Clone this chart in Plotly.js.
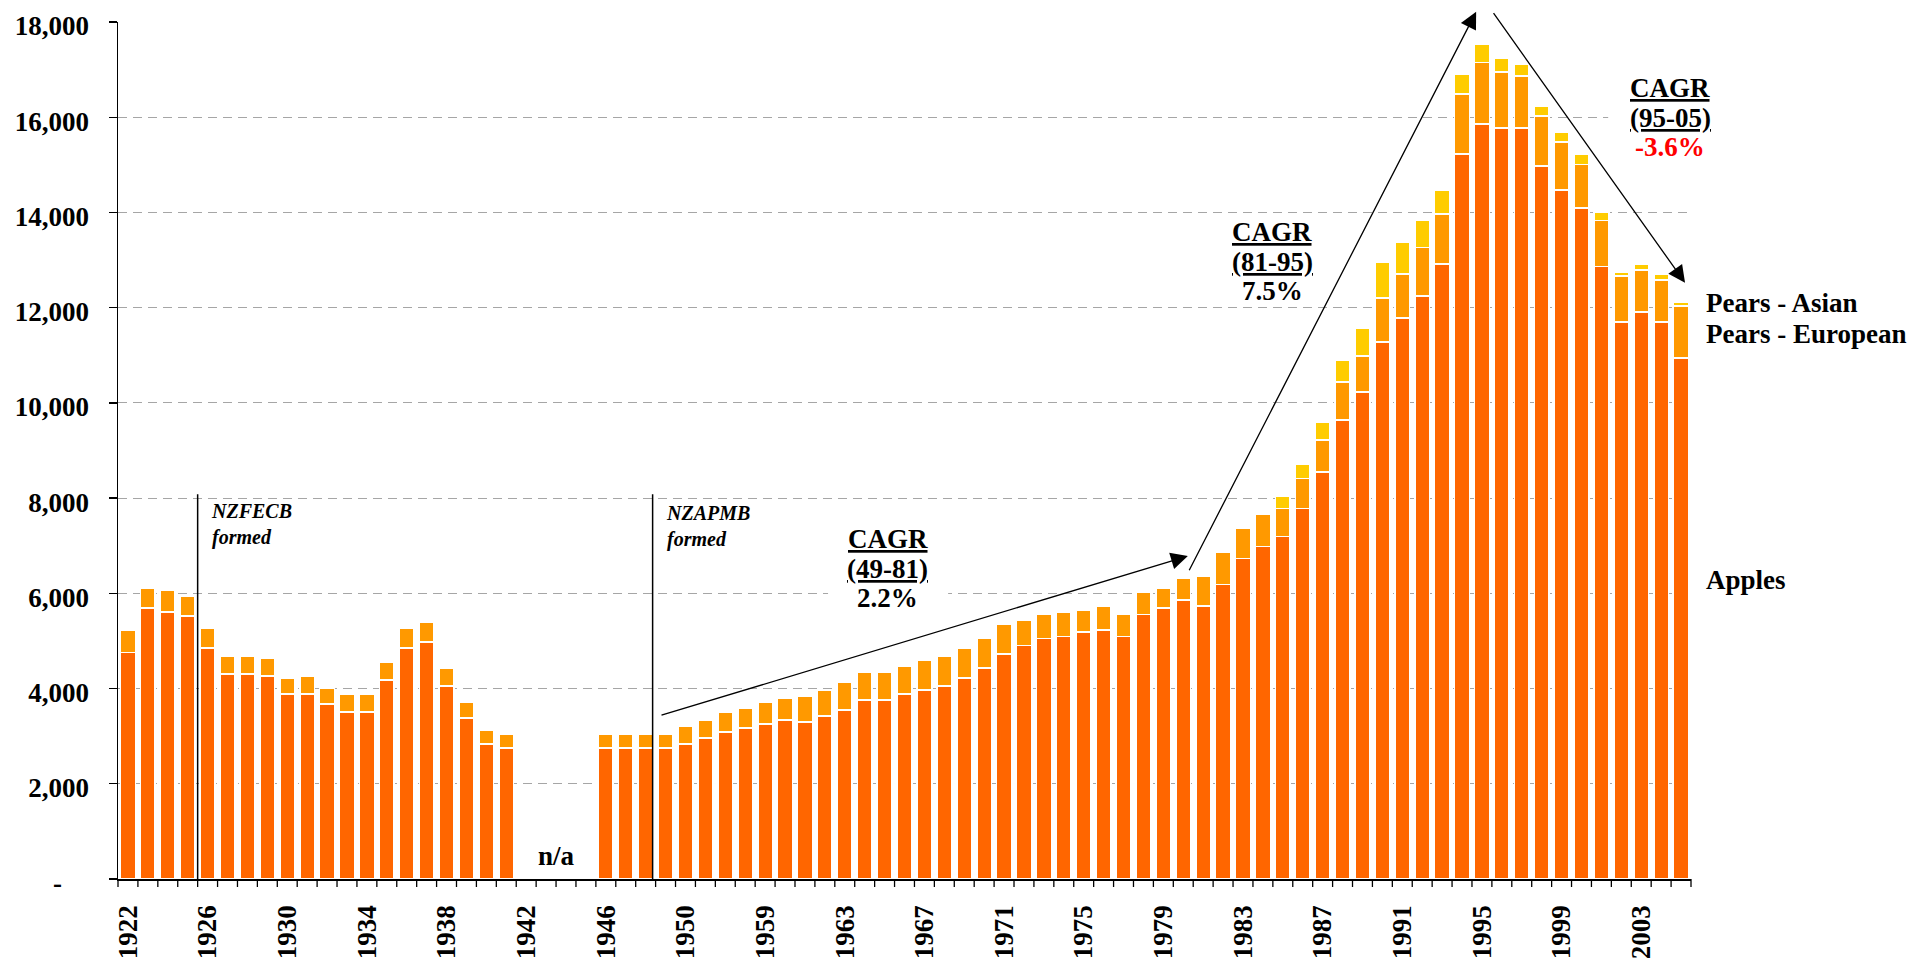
<!DOCTYPE html>
<html>
<head>
<meta charset="utf-8">
<script src="https://cdn.plot.ly/plotly-3.0.1.min.js"></script>
<style>html,body{margin:0;padding:0;background:#fff;}#chart{width:1923px;height:959px;}</style>
</head>
<body>
<div id="chart"></div>
<script>
// ---- data ----
const years = ["1922","1923","1924","1925","1926","1927","1928","1929","1930","1931",
  "1932","1933","1934","1935","1936","1937","1938","1939","1940","1941",
  "1942","1943","1944","1945","1946","1947","1948","1949","1950","1956",
  "1957","1958","1959","1960","1961","1962","1963","1964","1965","1966",
  "1967","1968","1969","1970","1971","1972","1973","1974","1975","1976",
  "1977","1978","1979","1980","1981","1982","1983","1984","1985","1986",
  "1987","1988","1989","1990","1991","1992","1993","1994","1995","1996",
  "1997","1998","1999","2000","2001","2002","2003","2004","2005"];

const apples = [4760,5690,5605,5525,4850,4305,4305,4265,3885,3885,
  3675,3505,3505,4180,4850,4975,4055,3380,2835,2750,
  null,null,null,null,2750,2750,2750,2750,2835,2960,
  3085,3170,3255,3340,3295,3420,3550,3760,3760,3885,
  3970,4050,4220,4430,4725,4900,5050,5095,5185,5230,
  5095,5560,5690,5860,5735,6190,6735,6985,7195,7785,
  8550,9640,10230,11280,11780,12250,12920,15230,15860,15775,
  15775,14980,14475,14095,12870,11700,11905,11700,10940];

const pearsEuropean = [470,420,465,420,420,380,380,375,335,380,
  335,380,380,375,420,420,375,335,295,295,
  null,null,null,null,295,295,295,295,375,375,
  420,420,460,460,550,550,585,585,585,590,
  630,635,635,635,630,530,515,510,465,505,
  470,470,420,460,625,675,630,670,590,625,
  670,800,755,920,925,1010,1050,1260,1290,1175,
  1090,1045,1000,915,965,960,885,880,1095];

const pearsAsian = [0,0,0,0,0,0,0,0,0,0,
  0,0,0,0,0,0,0,0,0,0,
  null,null,null,null,0,0,0,0,0,0,
  0,0,0,0,0,0,0,0,0,0,
  0,0,0,0,0,0,0,0,0,0,
  0,0,0,0,0,0,0,0,260,300,
  380,455,580,750,665,570,490,405,380,285,
  245,205,210,210,170,85,125,125,80];

const seriesNames = ["Apples","Pears - European","Pears - Asian"];
const seriesColors = ["#FF6600","#FF9900","#FFCC00"];
const yTickVals = [0,2000,4000,6000,8000,10000,12000,14000,16000,18000];
const yTickText = ["-\u00a0\u00a0\u00a0\u00a0","2,000","4,000","6,000","8,000","10,000","12,000","14,000","16,000","18,000"];
const xTickVals = years.filter((y,i)=>i%4===0);

// ---- layout constants ----
const W = 1923, H = 959;
const M = {l:118, r:232, t:22, b:80, pad:0};
const FONT = "Liberation Serif, Times New Roman, serif";
const nCat = years.length;
const plotH = H - M.t - M.b;
const pxPerUnit = plotH / 18000;
const lineGap = 29.5 / pxPerUnit;   // vertical spacing of stacked text lines, in data units

const traces = [apples, pearsEuropean, pearsAsian].map((vals,k)=>({
  type:"bar", x:years, y:vals, name:seriesNames[k],
  marker:{color:seriesColors[k], line:{color:"#FFFFFF", width:1.5}},
  hoverinfo:"x+y+name"
}));

const shapes = [];
// boundary tick marks under the category axis
for (let k=0;k<=nCat;k++){
  shapes.push({type:"line", xref:"paper", yref:"paper", x0:k/nCat, x1:k/nCat, y0:0, y1:-8/plotH,
    line:{color:"#000", width:1.3}});
}
// event marker lines
shapes.push({type:"line", xref:"x", yref:"y", x0:3.5, x1:3.5, y0:0, y1:8080, line:{color:"#000", width:1.5}});
shapes.push({type:"line", xref:"x", yref:"y", x0:26.35, x1:26.35, y0:0, y1:8080, line:{color:"#000", width:1.5}});
// white label backgrounds that interrupt the gridlines
shapes.push({type:"rect", layer:"between", xref:"x", yref:"y", x0:35.16, x1:41.19, y0:5608, y1:7435,
  fillcolor:"#FFFFFF", line:{width:0}});
shapes.push({type:"rect", layer:"between", xref:"x", yref:"y", x0:74.34, x1:78.5, y0:15094, y1:16929,
  fillcolor:"#FFFFFF", line:{width:0}});

const txt = (x,y,text,opts={})=>Object.assign({
  x:x, y:y, xref:"x", yref:"y", text:text, showarrow:false,
  font:{family:FONT, size:27, color:"#000", weight:"bold"}, xanchor:"center", yanchor:"middle"
}, opts);
const cagr = (x, yMid, period, rate, rateColor)=>[
  txt(x, yMid + lineGap, "<u>CAGR</u>"),
  txt(x, yMid, "<u>(" + period + ")</u>"),
  txt(x, yMid - lineGap, rate, {font:{family:FONT, size:27, color:rateColor, weight:"bold"}})
];
const italicFont = {family:FONT, size:20, color:"#000", weight:"bold", style:"italic"};

const annotations = [
  txt(3.5, 7446, "NZFECB<br>formed", {xanchor:"left", xshift:11, align:"left", font:italicFont}),
  txt(26.35, 7397, "NZAPMB<br>formed", {xanchor:"left", xshift:11, align:"left", font:italicFont}),
  ...cagr(38.17, 6520, "49-81", "2.2%", "#000"),
  ...cagr(57.48, 12966, "81-95", "7.5%", "#000"),
  ...cagr(77.45, 15990, "95-05", "-3.6%", "#FF0000"),
  txt(21.5, 490, "n/a"),
  txt(1.0085, 12104, seriesNames[2], {xref:"paper", xanchor:"left"}),
  txt(1.0085, 11447, seriesNames[1], {xref:"paper", xanchor:"left"}),
  txt(1.0085, 6280, seriesNames[0], {xref:"paper", xanchor:"left"}),
  // trend arrows
  {xref:"x", yref:"y", axref:"x", ayref:"y", x:53.23, y:6784, ax:26.72, ay:3430, text:"",
   showarrow:true, arrowhead:2, arrowsize:2.6, arrowwidth:1.3, arrowcolor:"#000", standoff:0, startstandoff:0},
  {xref:"x", yref:"y", axref:"x", ayref:"y", x:67.71, y:18216, ax:53.26, ay:6454, text:"",
   showarrow:true, arrowhead:2, arrowsize:2.6, arrowwidth:1.3, arrowcolor:"#000", standoff:0, startstandoff:0},
  {xref:"x", yref:"y", axref:"x", ayref:"y", x:78.2, y:12524, ax:68.53, ay:18216, text:"",
   showarrow:true, arrowhead:2, arrowsize:2.6, arrowwidth:1.3, arrowcolor:"#000", standoff:0, startstandoff:0}
];

const tickFont = {family:FONT, size:27, color:"#000", weight:"bold"};

const layout = {
  width:W, height:H, margin:M, paper_bgcolor:"#fff", plot_bgcolor:"#fff",
  barmode:"stack", bargap:0.26, showlegend:false,
  font:{family:FONT, color:"#000"},
  xaxis:{type:"category", categoryorder:"array", categoryarray:years, range:[-0.5, nCat-0.5],
    tickmode:"array", tickvals:xTickVals, ticktext:xTickVals, tickangle:-90,
    ticks:"", ticklabelstandoff:14, tickfont:tickFont,
    showline:true, linecolor:"#000", linewidth:1.5, showgrid:false, zeroline:false, fixedrange:true},
  yaxis:{range:[0,18000], tickmode:"array", tickvals:yTickVals, ticktext:yTickText,
    ticks:"outside", ticklen:8, tickwidth:1.3, tickcolor:"#000", ticklabelstandoff:14, ticklabelshift:4,
    tickfont:tickFont,
    showline:true, linecolor:"#000", linewidth:1.5,
    showgrid:true, gridcolor:"#A6A6A6", gridwidth:1, griddash:"9px,6px", zeroline:false, fixedrange:true},
  shapes:shapes, annotations:annotations
};

Plotly.newPlot("chart", traces, layout, {displayModeBar:false, staticPlot:true});
</script>
</body>
</html>
